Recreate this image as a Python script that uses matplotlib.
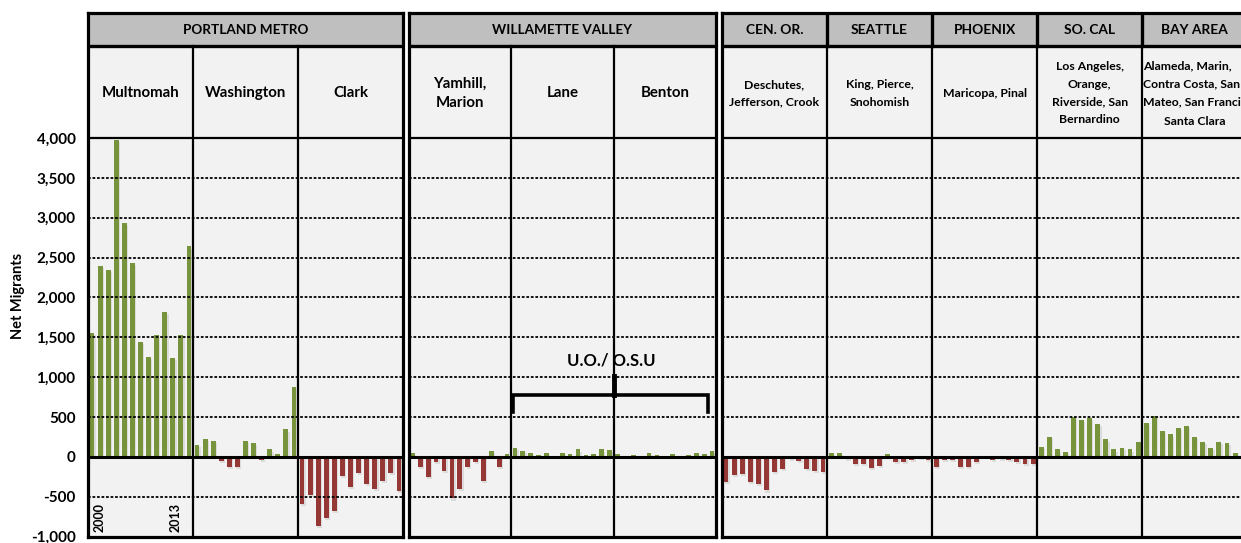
import matplotlib
matplotlib.use("Agg")
import matplotlib.pyplot as plt
import matplotlib.patheffects as pe

plt.rcParams['font.family'] = ['Lato', 'DejaVu Sans']

GREEN = '#77933C'
RED = '#953735'
BG = '#F2F2F2'
HEAD = '#BFBFBF'

# net migrants per year (2000..2013), one list per county group
multnomah = [1550, 2400, 2350, 3970, 2935, 2435, 1445, 1260, 1530, 1820, 1245, 1530, 2640]
washington = [150, 230, 200, -55, -120, -120, 200, 175, -40, 95, 40, 345, 880]
clark = [-590, -475, -860, -770, -680, -235, -370, -200, -340, -400, -295, -200, -430]
yamhill_marion = [45, -125, -250, -60, -175, -520, -405, -125, -60, -300, 70, -125, 35]
lane = [115, 70, 50, 30, 50, 8, 50, 40, 95, 30, 35, 95, 85]
benton = [38, 12, 20, 12, 54, 20, 12, 38, 17, 25, 54, 38, 70]
cen_or = [-310, -230, -210, -310, -340, -420, -185, -150, -30, -45, -150, -170, -185]
seattle = [50, 50, -25, -90, -90, -135, -110, 42, -58, -58, -42, -10, -42]
phoenix = [-120, -42, -42, -120, -120, -58, -5, -42, -30, -42, -58, -88, -88]
so_cal = [125, 250, 95, 65, 500, 470, 490, 410, 220, 95, 115, 95, 190]
bay_area = [425, 517, 330, 283, 363, 392, 250, 188, 113, 188, 175, 50]

yticks = [-1000, -500, 0, 500, 1000, 1500, 2000, 2500, 3000, 3500, 4000]

groups = [
    {'header': ['PORTLAND METRO'],
     'labels': ['Multnomah', 'Washington', 'Clark'],
     'series': [multnomah, washington, clark]},
    {'header': ['WILLAMETTE VALLEY'],
     'labels': ['Yamhill,\nMarion', 'Lane', 'Benton'],
     'series': [yamhill_marion, lane, benton]},
    {'header': ['CEN. OR.', 'SEATTLE', 'PHOENIX', 'SO. CAL', 'BAY AREA'],
     'labels': ['Deschutes,\nJefferson, Crook', 'King, Pierce,\nSnohomish',
                'Maricopa, Pinal', 'Los Angeles,\nOrange,\nRiverside, San\nBernardino',
                None],
     'series': [cen_or, seattle, phoenix, so_cal, bay_area]},
]

W, H = 1241, 543
NB = 13            # bars per column
Y0, Y1 = -1000, 5567
LAB_TOP = 5154     # top of county label row
px_left = [88, 408.5, 722]
px_right = [403, 716, 722 + 65 * 8.08]

fig = plt.figure(figsize=(W / 100, H / 100), dpi=100)
fig.patch.set_facecolor('white')

axes = []
for gi, g in enumerate(groups):
    ncol = len(g['series'])
    l, r = px_left[gi], px_right[gi]
    ax = fig.add_axes([l / W, (H - 536.75) / H, (r - l) / W, (536.75 - 13) / H])
    ax.set_facecolor(BG)
    ax.set_xlim(0, ncol * NB)
    ax.set_ylim(Y0, Y1)
    for s in ax.spines.values():
        s.set_linewidth(2.3)
        s.set_zorder(10)
    ax.set_xticks([])

    # header band
    ax.axhspan(LAB_TOP, Y1, color=HEAD, zorder=1)

    # gridlines
    for v in yticks[1:-1]:
        if v == 0:
            continue
        ax.axhline(v, color='black', lw=1.3, ls=(0, (1.5, 1.0)), zorder=4)
    ax.axhline(0, color='black', lw=2.2, zorder=6)
    ax.axhline(4000, color='black', lw=1.6, zorder=6)
    ax.axhline(LAB_TOP, color='black', lw=2.4, zorder=6)

    # column separators
    for c in range(1, ncol):
        ax.plot([c * NB, c * NB], [Y0, LAB_TOP], color='black', lw=1.6, zorder=7)
        if len(g['header']) > 1:
            ax.plot([c * NB, c * NB], [LAB_TOP, Y1], color='black', lw=2.4, zorder=7)

    # bars
    for c, vals in enumerate(g['series']):
        xs = [c * NB + i + 0.5 for i in range(len(vals))]
        cols = [GREEN if v >= 0 else RED for v in vals]
        bars = ax.bar(xs, vals, width=0.6, color=cols, zorder=3)
        for b in bars:
            b.set_path_effects([pe.SimplePatchShadow(offset=(1, -1.5), shadow_rgbFace='#909090', alpha=0.22),
                                pe.Normal()])

    # header texts
    if len(g['header']) == 1:
        ax.text(ncol * NB / 2, 5350, g['header'][0], ha='center', va='center',
                fontsize=9.7, fontweight='bold', zorder=8)
    else:
        for c, h in enumerate(g['header']):
            ax.text(c * NB + NB / 2, 5350, h, ha='center', va='center',
                    fontsize=9.9, fontweight='bold', zorder=8)

    # county labels
    small = len(g['header']) > 1
    for c, lab in enumerate(g['labels']):
        if lab is None:
            continue
        ax.text(c * NB + NB / 2, 4560, lab, ha='center', va='center',
                fontsize=8.8 if small else 10.8, fontweight='bold',
                linespacing=1.75 if small else 1.45, zorder=8)

    if gi == 0:
        ax.set_yticks(yticks)
        ax.set_yticklabels([f'{v:,}' for v in yticks], fontsize=11, fontweight='bold')
        ax.tick_params(axis='y', length=0, pad=9)
    else:
        ax.set_yticks([])
    axes.append(ax)

ax1, ax2, ax3 = axes

# bay area label runs past the picture's right edge, as in the source
ax3.text(4 * NB + 0.1, 4560 + 117, 'Alameda, Marin,\nContra Costa, San\nMateo, San Francisco,',
         ha='left', va='center', fontsize=8.8, fontweight='bold', linespacing=1.75, zorder=8)
ax3.text(4 * NB + NB / 2, 4560 - 355, 'Santa Clara', ha='center', va='center',
         fontsize=8.8, fontweight='bold', zorder=8)

# year markers
ax1.text(1.4, -760, '2000', rotation=90, ha='center', va='center', fontsize=9, fontweight='bold', zorder=8)
ax1.text(10.9, -760, '2013', rotation=90, ha='center', va='center', fontsize=9, fontweight='bold', zorder=8)

# U.O./O.S.U bracket
ax2.plot([13.3, 13.3, 38.0, 38.0], [565, 780, 780, 565], color='black', lw=2.6, zorder=5,
         solid_joinstyle='miter')
ax2.plot([26, 26], [780, 1015], color='black', lw=3.5, zorder=5)
ax2.text(25.7, 1216, 'U.O./ O.S.U', ha='center', va='center', fontsize=12, fontweight='bold', zorder=5)

fig.text(18 / W, 1 - 296 / H, 'Net Migrants', rotation=90, ha='center', va='center',
         fontsize=10.5, fontweight='bold')

fig.savefig('out.png', dpi=100)
